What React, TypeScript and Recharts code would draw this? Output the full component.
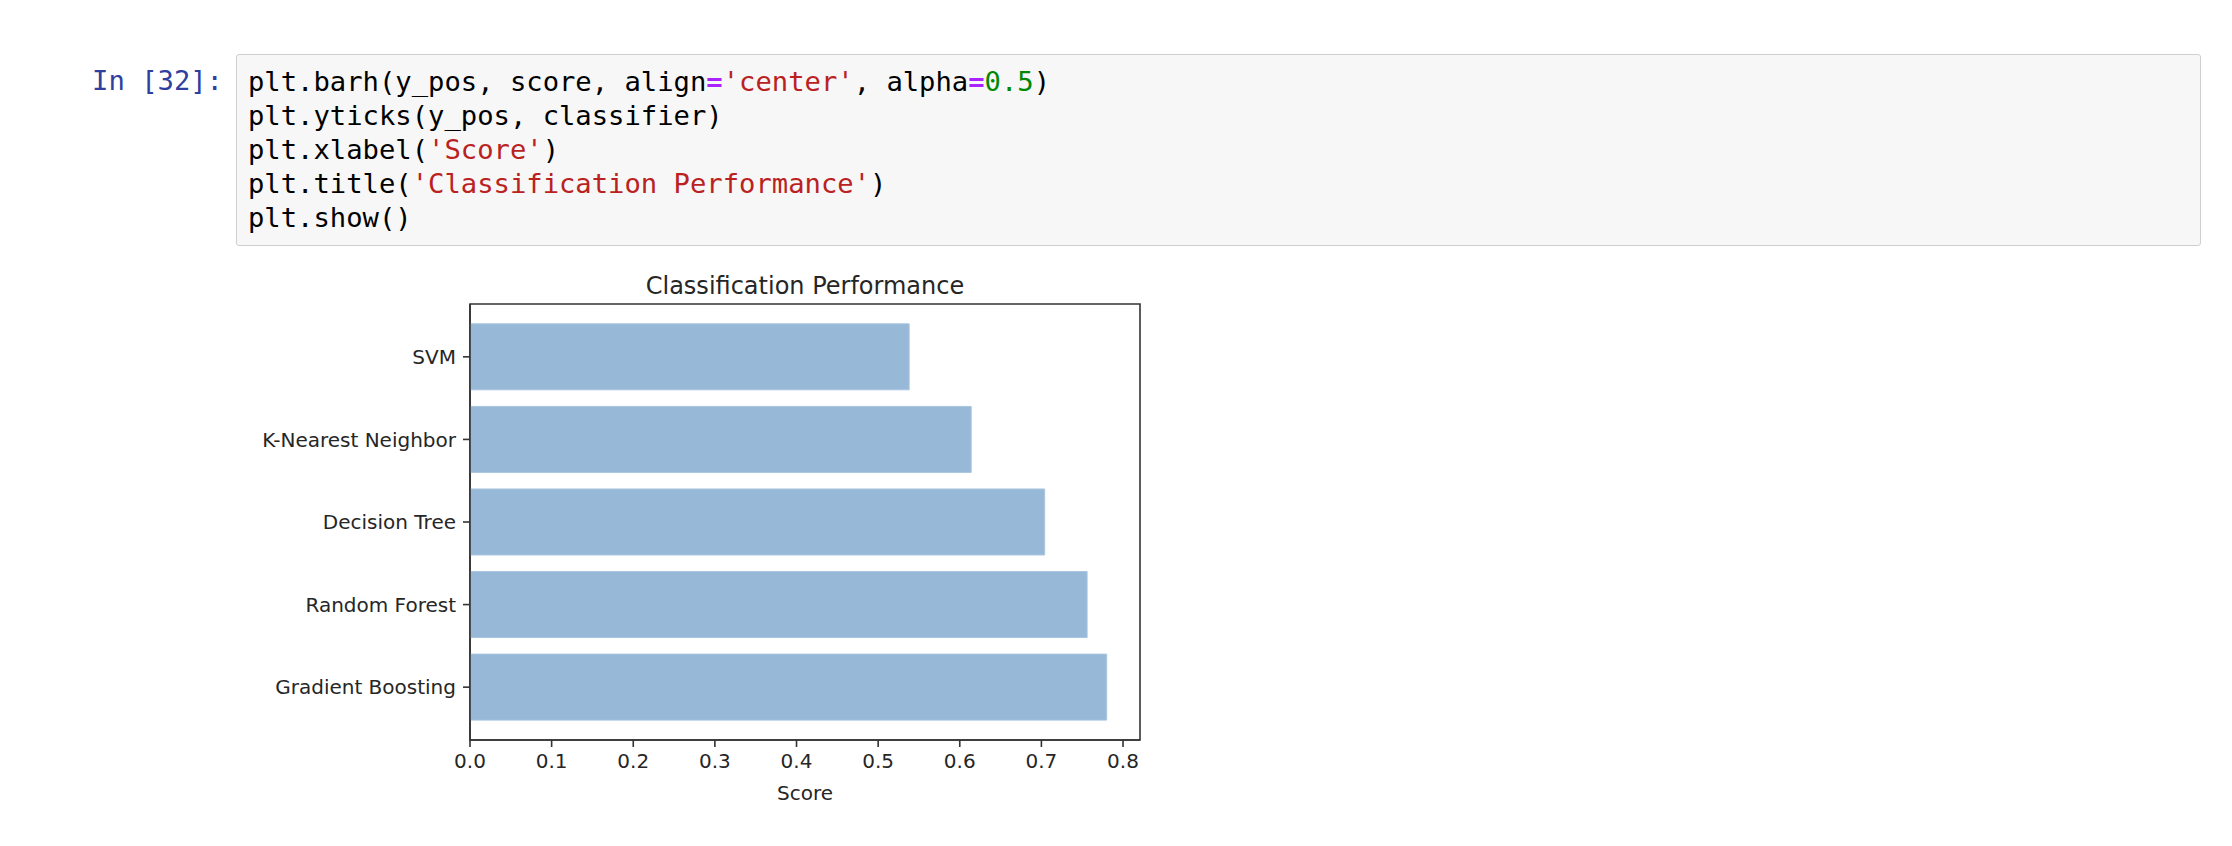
import React from "react";
import { BarChart, Bar, XAxis, YAxis, ReferenceArea } from "recharts";

// classifier names, bottom (y_pos 0) to top, as in plt.yticks(y_pos, classifier)
const classifiers = [
	"Gradient Boosting",
	"Random Forest",
	"Decision Tree",
	"K-Nearest Neighbor",
	"SVM",
];
const yPos = [0, 1, 2, 3, 4];
const scores = [0.78, 0.756, 0.704, 0.614, 0.538];
const scoreTicks = [0, 0.1, 0.2, 0.3, 0.4, 0.5, 0.6, 0.7, 0.8];
const scoreMax = 0.8208;
// matplotlib autoscale: bars span -0.4..4.4, plus 5% margin
const yDomain = [-0.64, 4.64];

const data = classifiers.map((name, i) => ({
	name,
	pos: yPos[i],
	score: scores[i],
}));

const mono = "'DejaVu Sans Mono', 'Liberation Mono', monospace";
const sans = "'DejaVu Sans', Verdana, sans-serif";
const ink = "#262626";
const spine = "#333";

const C = {
	op: { color: "#AA22FF", fontWeight: "bold" as const },
	str: { color: "#BA2121" },
	num: { color: "#008800" },
};

function CodeCell() {
	return (
		<div style={{ position: "absolute", left: 0, top: 0, width: 2232 }}>
			<div
				style={{
					position: "absolute",
					left: 0,
					width: 223,
					top: 64,
					textAlign: "right",
					fontFamily: mono,
					fontSize: 27.2,
					lineHeight: "34px",
					color: "#303F9F",
					whiteSpace: "pre",
				}}
			>
				In [32]:
			</div>
			<div
				style={{
					position: "absolute",
					left: 236,
					top: 54,
					width: 2201 - 236,
					height: 192,
					boxSizing: "border-box",
					border: "1px solid #cfcfcf",
					borderRadius: 3,
					background: "#f7f7f7",
					padding: "10px 11px",
					fontFamily: mono,
					fontSize: 27.2,
					lineHeight: "34px",
					color: "#000",
					whiteSpace: "pre",
				}}
			>
				<div>
					plt.barh(y_pos, score, align<span style={C.op}>=</span>
					<span style={C.str}>'center'</span>, alpha
					<span style={C.op}>=</span>
					<span style={C.num}>0.5</span>)
				</div>
				<div>plt.yticks(y_pos, classifier)</div>
				<div>
					plt.xlabel(<span style={C.str}>'Score'</span>)
				</div>
				<div>
					plt.title(<span style={C.str}>'Classification Performance'</span>)
				</div>
				<div>plt.show()</div>
			</div>
		</div>
	);
}

export default function App() {
	return (
		<div
			style={{
				position: "absolute",
				left: 0,
				top: 0,
				width: 2232,
				height: 846,
				background: "#fff",
			}}
		>
			<CodeCell />

			{/* title sits above the axes box */}
			<div
				style={{
					position: "absolute",
					left: 470,
					width: 670,
					top: 271,
					textAlign: "center",
					fontFamily: sans,
					fontSize: 24,
					lineHeight: "30px",
					color: ink,
				}}
			>
				Classification Performance
			</div>

			<div style={{ position: "absolute", left: 200, top: 260 }}>
				<BarChart
					width={960}
					height={560}
					data={data}
					layout="vertical"
					margin={{ top: 44, right: 20, bottom: 0, left: 0 }}
					barCategoryGap="10%"
				>
					<XAxis
						type="number"
						dataKey="score"
						domain={[0, scoreMax]}
						allowDataOverflow
						ticks={scoreTicks}
						tickFormatter={(v: number) => v.toFixed(1)}
						height={80}
						tickSize={7}
						tickMargin={7}
						axisLine={{ stroke: spine, strokeWidth: 1.6 }}
						tickLine={{ stroke: spine, strokeWidth: 1.6 }}
						tick={{ fill: ink, fontFamily: sans, fontSize: 20 }}
						label={{
							value: "Score",
							position: "insideBottom",
							offset: 20,
							fill: ink,
							fontFamily: sans,
							fontSize: 20,
						}}
					/>
					{/* y_pos 0 sits at the bottom, as in matplotlib */}
					<YAxis
						type="number"
						dataKey="pos"
						domain={yDomain}
						allowDataOverflow
						reversed
						ticks={yPos}
						interval={0}
						tickFormatter={(v: number) => classifiers[v] ?? ""}
						width={270}
						tickSize={7}
						tickMargin={7}
						axisLine={{ stroke: spine, strokeWidth: 1.6 }}
						tickLine={{ stroke: spine, strokeWidth: 1.6 }}
						tick={{ fill: ink, fontFamily: sans, fontSize: 20 }}
					/>
					<Bar
						dataKey="score"
						fill="#97b8d6"
						stroke="#a9c6e0"
						strokeWidth={1}
						isAnimationActive={false}
					/>
					{/* full frame round the plot, like matplotlib's four spines */}
					<ReferenceArea
						x1={0}
						x2={scoreMax}
						y1={yDomain[0]}
						y2={yDomain[1]}
						fill="none"
						fillOpacity={0}
						stroke={spine}
						strokeWidth={1.6}
						ifOverflow="visible"
					/>
				</BarChart>
			</div>
		</div>
	);
}
